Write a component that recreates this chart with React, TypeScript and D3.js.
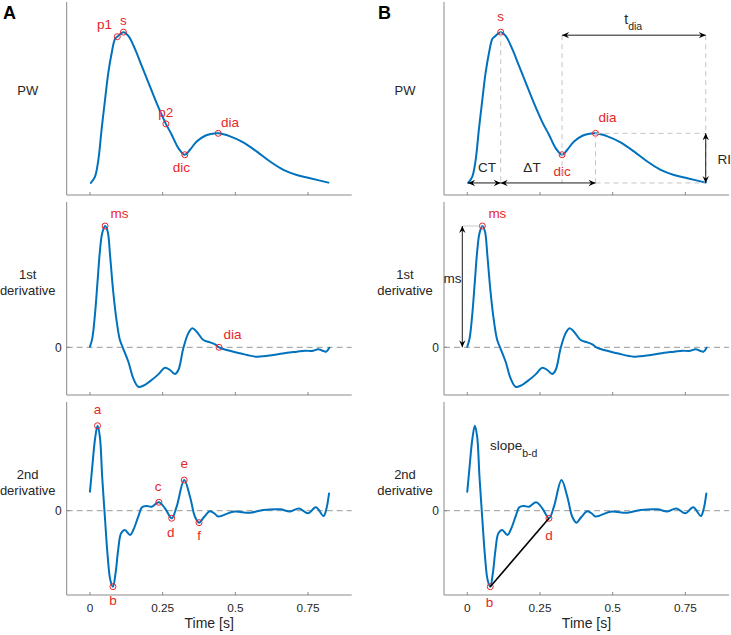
import React from "react";
import * as d3 from "d3";

// ---------- data ----------
const pwT = [0.003, 0.017, 0.029, 0.040, 0.052, 0.063, 0.075, 0.086, 0.094, 0.115, 0.132, 0.155, 0.178, 0.201, 0.224, 0.241, 0.261, 0.281, 0.304, 0.326, 0.344, 0.367, 0.396, 0.416, 0.441, 0.482, 0.527, 0.573, 0.619, 0.665, 0.711, 0.757, 0.82];
const pwV = [0, 0.04, 0.155, 0.355, 0.555, 0.73, 0.865, 0.955, 0.97, 1.0, 0.975, 0.888, 0.776, 0.665, 0.555, 0.477, 0.392, 0.32, 0.231, 0.187, 0.22, 0.275, 0.313, 0.325, 0.329, 0.309, 0.269, 0.209, 0.142, 0.087, 0.053, 0.031, 0.002];

const d1T = [0, 0.008, 0.017, 0.026, 0.034, 0.042, 0.052, 0.061, 0.069, 0.080, 0.092, 0.103, 0.114, 0.132, 0.149, 0.166, 0.183, 0.212, 0.235, 0.258, 0.275, 0.292, 0.304, 0.321, 0.338, 0.352, 0.367, 0.390, 0.413, 0.43, 0.444, 0.470, 0.516, 0.573, 0.631, 0.677, 0.711, 0.74, 0.763, 0.786, 0.80, 0.812, 0.823];
const d1V = [0.005, 0.074, 0.266, 0.541, 0.788, 0.94, 1.0, 0.953, 0.761, 0.458, 0.211, 0.06, -0.008, -0.119, -0.256, -0.325, -0.317, -0.27, -0.223, -0.168, -0.187, -0.22, -0.187, -0.008, 0.115, 0.157, 0.129, 0.06, 0.041, 0.025, 0, -0.022, -0.049, -0.077, -0.063, -0.045, -0.036, -0.028, -0.03, -0.016, -0.028, -0.036, -0.003];

const d2T = [0, 0.008, 0.017, 0.026, 0.034, 0.042, 0.052, 0.061, 0.070, 0.079, 0.088, 0.097, 0.107, 0.12, 0.138, 0.149, 0.166, 0.179, 0.195, 0.212, 0.237, 0.258, 0.281, 0.298, 0.324, 0.344, 0.361, 0.375, 0.393, 0.413, 0.43, 0.441, 0.493, 0.55, 0.596, 0.654, 0.688, 0.719, 0.75, 0.777, 0.803, 0.812, 0.822];
const d2V = [0.224, 0.518, 0.832, 1.0, 0.871, 0.4, -0.109, -0.541, -0.815, -0.894, -0.736, -0.462, -0.266, -0.227, -0.286, -0.227, -0.071, 0.04, 0.055, 0.047, 0.099, 0.028, -0.089, 0.047, 0.361, 0.165, -0.071, -0.141, -0.071, -0.006, -0.039, -0.068, -0.012, -0.024, 0.008, 0.016, -0.009, 0.026, -0.031, 0.04, -0.062, 0.008, 0.202];

const xTicks = [0, 0.25, 0.5, 0.75];
const xTickLabels = ["0", "0.25", "0.5", "0.75"];
const xLabel = "Time [s]";

// fiducial points (name, time)
const pwNamesA = ["p1", "s", "p2", "dic", "dia"];
const pwTimesA = [0.094, 0.115, 0.261, 0.326, 0.441];
const d1NamesA = ["ms", "dia"];
const d1TimesA = [0.052, 0.444];
const d2NamesA = ["a", "b", "c", "d", "e", "f"];
const d2TimesA = [0.026, 0.079, 0.237, 0.281, 0.324, 0.375];

const pwNamesB = ["s", "dic", "dia"];
const pwTimesB = [0.115, 0.326, 0.441];
const d1NamesB = ["ms"];
const d1TimesB = [0.052];
const d2NamesB = ["b", "d"];
const d2TimesB = [0.079, 0.281];

const tdiaLevel = 0.98; // PW level of the t_dia arrow

// ---------- layout / style ----------
const W = 731, H = 635;
const plotW = 285, plotH = 193;
const colX = [66.7, 444];
const rowY = [2, 202, 402];
const xDomain = [-0.08, 0.9];
const yDomains = [[-0.08, 1.2], [-0.393, 1.198], [-0.992, 1.279]];
const FONT = "'Liberation Sans', Arial, Helvetica, sans-serif";
const BLUE = "#0072BD";
const RED = "#e8262a";
const AXIS = "#8a8a8a";
const TXT = "#262626";

// label offsets (px) relative to the marker: [dx, dy to baseline]
const offA: Record<string, [number, number]> = {
  p1: [-12.8, -7.8], s: [0, -6.7], p2: [0, -7], dic: [-3.4, 17.3], dia: [11.7, -6.7],
};
const offA1: Record<string, [number, number]> = { ms: [14.5, -7.7], dia: [13.5, -8] };
const offA2: Record<string, [number, number]> = {
  a: [0, -11.4], b: [0, 18.3], c: [-0.7, -11.6], d: [-1, 18.3], e: [0, -11.7], f: [0, 17.3],
};
const offB: Record<string, [number, number]> = { s: [0, -11.6], dic: [0, 21.7], dia: [12, -11.6] };
const offB1: Record<string, [number, number]> = { ms: [15, -7.7] };
const offB2: Record<string, [number, number]> = { b: [-0.7, 20.6], d: [0, 21.3] };

function valueAt(T: number[], V: number[], t: number) {
  let best = 0;
  for (let i = 0; i < T.length; i++) if (Math.abs(T[i] - t) < Math.abs(T[best] - t)) best = i;
  return V[best];
}

function xScaleFor(col: number) {
  return d3.scaleLinear().domain(xDomain).range([colX[col], colX[col] + plotW]);
}
function yScaleFor(row: number) {
  return d3.scaleLinear().domain(yDomains[row]).range([rowY[row] + plotH, rowY[row]]);
}

function ArrowHead({ x, y, angle }: { x: number; y: number; angle: number }) {
  const L = 7, Wd = 3.2;
  const c = Math.cos(angle), s = Math.sin(angle);
  const bx = x - L * c, by = y - L * s;
  const nx = x - 0.65 * L * c, ny = y - 0.65 * L * s;
  const p = `M${x},${y}L${bx - Wd * s},${by + Wd * c}L${nx},${ny}L${bx + Wd * s},${by - Wd * c}Z`;
  return <path d={p} fill="#000" />;
}

function DoubleArrow({ x1, y1, x2, y2 }: { x1: number; y1: number; x2: number; y2: number }) {
  const a = Math.atan2(y2 - y1, x2 - x1);
  return (
    <g>
      <line x1={x1} y1={y1} x2={x2} y2={y2} stroke="#000" strokeWidth={0.9} />
      <ArrowHead x={x2} y={y2} angle={a} />
      <ArrowHead x={x1} y={y1} angle={a + Math.PI} />
    </g>
  );
}

type PanelProps = {
  col: number; row: number; T: number[]; V: number[];
  zero: boolean; xLabels: boolean; ylabel: string[];
  names: string[]; times: number[]; offs: Record<string, [number, number]>;
};

function Panel({ col, row, T, V, zero, xLabels, ylabel, names, times, offs }: PanelProps) {
  const x = xScaleFor(col);
  const y = yScaleFor(row);
  const x0 = colX[col], y0 = rowY[row];
  const pts = T.map((t, i) => [t, V[i]] as [number, number]);
  const line = d3.line<[number, number]>().x(d => x(d[0])).y(d => y(d[1])).curve(d3.curveCatmullRom.alpha(0.5));
  const labelX = x0 - 39;
  return (
    <g>
      {zero && (
        <line x1={x0} x2={x0 + plotW} y1={y(0)} y2={y(0)} stroke="#999" strokeWidth={1} strokeDasharray="6,4" />
      )}
      <line x1={x0} x2={x0} y1={y0} y2={y0 + plotH} stroke={AXIS} strokeWidth={1} />
      <line x1={x0} x2={x0 + plotW} y1={y0 + plotH} y2={y0 + plotH} stroke={AXIS} strokeWidth={1} />
      {xTicks.map((t, i) => (
        <g key={i}>
          <line x1={x(t)} x2={x(t)} y1={y0 + plotH} y2={y0 + plotH - 3} stroke={AXIS} strokeWidth={1} />
          {xLabels && (
            <text x={x(t)} y={y0 + plotH + 17} textAnchor="middle" fontSize={11.8} fill={TXT}>{xTickLabels[i]}</text>
          )}
        </g>
      ))}
      {xLabels && (
        <text x={x0 + plotW / 2} y={y0 + plotH + 33} textAnchor="middle" fontSize={14} fill={TXT}>{xLabel}</text>
      )}
      {zero && (
        <g>
          <line x1={x0} x2={x0 + 3} y1={y(0)} y2={y(0)} stroke={AXIS} />
          <text x={x0 - 5} y={y(0) + 4.5} textAnchor="end" fontSize={12} fill={TXT}>0</text>
        </g>
      )}
      {ylabel.length === 1 ? (
        <text x={labelX} y={y0 + 93} textAnchor="middle" fontSize={13} fill={TXT}>{ylabel[0]}</text>
      ) : (
        <g>
          <text x={labelX} y={y0 + 76.5} textAnchor="middle" fontSize={13} fill={TXT}>{ylabel[0]}</text>
          <text x={labelX} y={y0 + 93} textAnchor="middle" fontSize={13} fill={TXT}>{ylabel[1]}</text>
        </g>
      )}
      <path d={line(pts) || ""} fill="none" stroke={BLUE} strokeWidth={2} strokeLinejoin="round" strokeLinecap="round" />
      {names.map((n, i) => {
        const px = x(times[i]), py = y(valueAt(T, V, times[i]));
        const o = offs[n];
        return (
          <g key={n}>
            <circle cx={px} cy={py} r={3} fill="none" stroke={RED} strokeWidth={1} />
            <text x={px + o[0]} y={py + o[1]} textAnchor="middle" fontSize={13.5} fill={RED}>{n}</text>
          </g>
        );
      })}
    </g>
  );
}

function AnnotationsB() {
  const x = xScaleFor(1);
  const yp = yScaleFor(0);
  const y1 = yScaleFor(1);
  const tStart = pwT[0], tEnd = pwT[pwT.length - 1];
  const ts = pwTimesB[0], tdic = pwTimesB[1], tdia = pwTimesB[2];
  const base = yp(valueAt(pwT, pwV, tStart));
  const sy = yp(valueAt(pwT, pwV, ts));
  const diaY = yp(valueAt(pwT, pwV, tdia));
  const topY = yp(tdiaLevel);
  const dash = { stroke: "#c4c4c4", strokeWidth: 1, strokeDasharray: "5,4", fill: "none" } as const;
  // ms arrow
  const msT = d1TimesB[0];
  const msY = y1(valueAt(d1T, d1V, msT));
  const arrX = colX[1] + 18.3;
  // slope b-d
  const x2s = xScaleFor(1);
  const y2s = yScaleFor(2);
  const bT = d2TimesB[0], dT = d2TimesB[1];
  const bx = x2s(bT), by = y2s(valueAt(d2T, d2V, bT));
  const dx = x2s(dT), dy = y2s(valueAt(d2T, d2V, dT));
  return (
    <g>
      {/* dashed guides */}
      <line x1={x(ts)} x2={x(ts)} y1={sy} y2={base} {...dash} />
      <line x1={x(tdic)} x2={x(tdic)} y1={topY} y2={base} {...dash} />
      <line x1={x(tEnd)} x2={x(tEnd)} y1={topY} y2={base} {...dash} />
      <line x1={x(tdia)} x2={x(tdia)} y1={diaY} y2={base} {...dash} />
      <line x1={x(tdia)} x2={x(tEnd)} y1={diaY} y2={diaY} {...dash} />
      <line x1={x(tdia)} x2={x(tEnd)} y1={base} y2={base} {...dash} />
      {/* arrows */}
      <DoubleArrow x1={x(tdic)} y1={topY} x2={x(tEnd)} y2={topY} />
      <DoubleArrow x1={x(tStart)} y1={base} x2={x(ts)} y2={base} />
      <DoubleArrow x1={x(ts)} y1={base} x2={x(tdia)} y2={base} />
      <DoubleArrow x1={x(tEnd)} y1={diaY} x2={x(tEnd)} y2={base} />
      <text x={624.3} y={23.5} fontSize={14} fill={TXT}>t<tspan fontSize={10.5} dy={6}>dia</tspan></text>
      <text x={487} y={171.7} textAnchor="middle" fontSize={13.5} fill={TXT}>CT</text>
      <text x={532} y={171.7} textAnchor="middle" fontSize={13.5} fill={TXT}>ΔT</text>
      <text x={717.5} y={163.5} fontSize={13.5} fill={TXT}>RI</text>
      {/* ms arrow */}
      <line x1={arrX} x2={x(msT)} y1={msY} y2={msY} stroke="#bbb" strokeWidth={0.8} />
      <DoubleArrow x1={arrX} y1={msY} x2={arrX} y2={y1(0)} />
      <text x={452.5} y={283.3} textAnchor="middle" fontSize={13.5} fill={TXT}>ms</text>
      {/* slope b-d */}
      <line x1={bx} y1={by} x2={dx} y2={dy} stroke="#000" strokeWidth={1.6} />
      <text x={490} y={450} fontSize={13.5} fill={TXT}>slope<tspan fontSize={10.5} dy={7}>b-d</tspan></text>
    </g>
  );
}

export default function App() {
  return (
    <svg width={W} height={H} style={{ position: "absolute", left: 0, top: 0, background: "#fff" }} fontFamily={FONT}>
      <rect width={W} height={H} fill="#fff" />
      <Panel col={0} row={0} T={pwT} V={pwV} zero={false} xLabels={false} ylabel={["PW"]} names={pwNamesA} times={pwTimesA} offs={offA} />
      <Panel col={0} row={1} T={d1T} V={d1V} zero={true} xLabels={false} ylabel={["1st", "derivative"]} names={d1NamesA} times={d1TimesA} offs={offA1} />
      <Panel col={0} row={2} T={d2T} V={d2V} zero={true} xLabels={true} ylabel={["2nd", "derivative"]} names={d2NamesA} times={d2TimesA} offs={offA2} />
      <Panel col={1} row={0} T={pwT} V={pwV} zero={false} xLabels={false} ylabel={["PW"]} names={pwNamesB} times={pwTimesB} offs={offB} />
      <Panel col={1} row={1} T={d1T} V={d1V} zero={true} xLabels={false} ylabel={["1st", "derivative"]} names={d1NamesB} times={d1TimesB} offs={offB1} />
      <Panel col={1} row={2} T={d2T} V={d2V} zero={true} xLabels={true} ylabel={["2nd", "derivative"]} names={d2NamesB} times={d2TimesB} offs={offB2} />
      <AnnotationsB />
      <text x={3} y={18.5} fontSize={18} fontWeight="bold" fill="#000">A</text>
      <text x={378} y={18.5} fontSize={18} fontWeight="bold" fill="#000">B</text>
    </svg>
  );
}
